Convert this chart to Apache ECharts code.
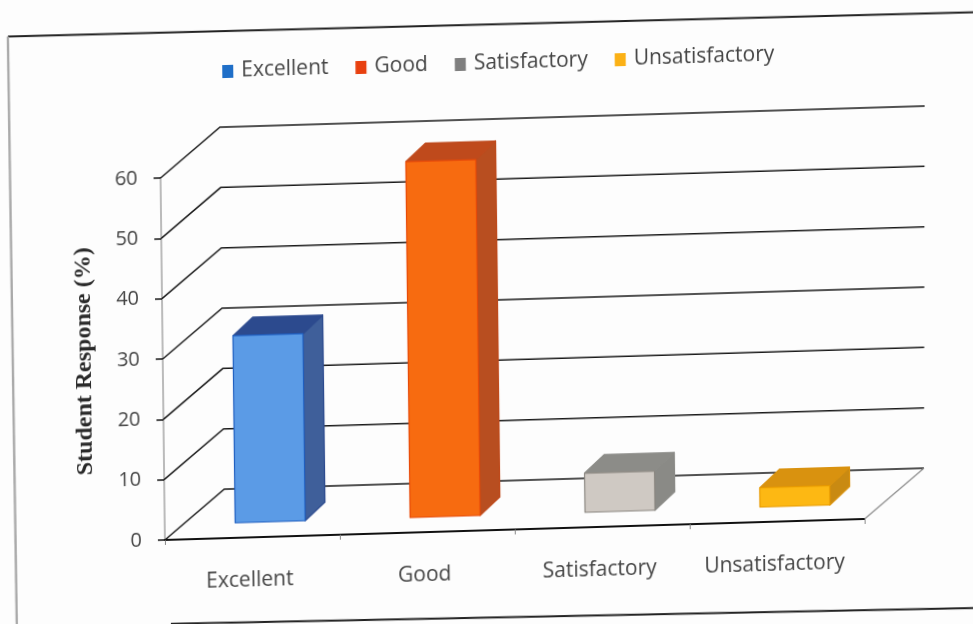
<!DOCTYPE html>
<html><head><meta charset="utf-8">
<script src="https://cdn.jsdelivr.net/npm/echarts@6/dist/echarts.min.js"></script>
<style>
html,body{margin:0;padding:0;width:973px;height:624px;overflow:hidden;background:#fdfdfd}
#c{position:absolute;left:-60px;top:-60px;width:1100px;height:780px;
 transform-origin:225px 600px;transform:matrix(1,-0.03,0.012,1,0,0);filter:blur(0.6px)}
</style></head><body><div id="c"></div>
<script>
const categories=['Excellent','Good','Satisfactory','Unsatisfactory'];
const responseValues=[31,59,6.5,3.2];
const yTicks=[0,10,20,30,40,50,60];
const axisTitle='Student Response (%)';
const palette=[
 {front:'#5b9be6',edge:'#1f5fc0',side:'#3f5f9a',top:'#2c4a8e',key:'#1f6fc8'},
 {front:'#f76b10',edge:'#e84a08',side:'#b84e20',top:'#bf4a1c',key:'#e8400f'},
 {front:'#cfc9c3',edge:'#8a8680',side:'#8a8a86',top:'#8c8c88',key:'#7f7f7f'},
 {front:'#fdb813',edge:'#e89a00',side:'#c98a12',top:'#d9920f',key:'#fbb116'}
];
const font='"Open Sans"';
const chart=echarts.init(document.getElementById('c'),null,{renderer:'canvas'});
const depth=[60,-49], barShift=[18,-15], barDepth=[20,-18], barFrac=0.4;

function gridItem(params,api){
  const v=api.value(0), p=api.coord([0,v]), cs=params.coordSys;
  const x0=cs.x, x1=cs.x+cs.width, y=p[1];
  const style={stroke:'#1a1a1a',lineWidth:1.5,fill:null};
  const children=[{type:'polyline',shape:{points:[[x0,y],[x0+depth[0],y+depth[1]],[x1+depth[0]+v/12,y+depth[1]]]},style}];
  if(v===0) children.push({type:'line',shape:{x1:x1,y1:y,x2:x1+depth[0],y2:y+depth[1]},style:{stroke:'#8a8a8a',lineWidth:1.2}});
  return {type:'group',children};
}
function barItem(pal){return function(params,api){
  const i=api.value(0), top=api.coord([i,api.value(1)]), base=api.coord([i,0]);
  const w=api.size([1,0])[0]*barFrac, l=top[0]-w/2+barShift[0], r=l+w;
  const yb=base[1]+barShift[1], yt=top[1]+barShift[1], dx=barDepth[0], dy=barDepth[1];
  const poly=(pts,fill,st)=>({type:'polygon',shape:{points:pts},style:{fill,stroke:st,lineWidth:1.2,lineJoin:'round'}});
  return {type:'group',children:[
    poly([[r,yb],[r+dx,yb+dy],[r+dx,yt+dy],[r,yt]],pal.side,pal.top),
    poly([[l,yt],[r,yt],[r+dx,yt+dy],[l+dx,yt+dy]],pal.top,pal.top),
    poly([[l,yb],[r,yb],[r,yt],[l,yt]],pal.front,pal.edge)
  ]};
};}

const series=[{type:'custom',name:'gridlines',silent:true,z:1,clip:false,
  coordinateSystem:'cartesian2d',encode:{y:0},data:yTicks.map(v=>[v]),renderItem:gridItem}];
categories.forEach((c,i)=>series.push({type:'custom',name:c,z:3,clip:false,
  coordinateSystem:'cartesian2d',itemStyle:{color:palette[i].key},
  encode:{x:0,y:1},data:[[i,responseValues[i]]],renderItem:barItem(palette[i])}));

chart.setOption({
  animation:false,backgroundColor:'transparent',
  graphic:[
    {type:'line',silent:true,shape:{x1:74,y1:92,x2:1100,y2:97},style:{stroke:'#222',lineWidth:1.8}},
    {type:'line',silent:true,shape:{x1:74,y1:92,x2:76,y2:720},style:{stroke:'#aaa',lineWidth:2.4}},
    {type:'line',silent:true,shape:{x1:230,y1:684,x2:1100,y2:693},style:{stroke:'#222',lineWidth:1.8}}
  ],
  legend:{left:283,top:118,data:categories,icon:'rect',itemWidth:11,itemHeight:13,itemGap:27,
    textStyle:{fontFamily:font,fontSize:21,color:'#444',padding:[0,0,0,3]}},
  grid:{left:225,top:238,width:700,height:362},
  xAxis:{type:'category',data:categories,
    axisLine:{show:true,lineStyle:{color:'#111',width:1.8}},
    axisTick:{show:true,length:5,lineStyle:{color:'#888'}},
    axisLabel:{margin:33,fontFamily:font,fontSize:21,color:'#444',interval:0,padding:[0,6,0,0]},splitLine:{show:false}},
  yAxis:{type:'value',min:0,max:60,interval:10,name:axisTitle,nameLocation:'middle',nameGap:66,
    nameTextStyle:{fontFamily:'"Liberation Serif"',fontWeight:'bold',fontSize:24,color:'#2a2a2a'},
    axisLine:{show:true,lineStyle:{color:'#aaa',width:1.6}},
    axisTick:{show:true,length:7,lineStyle:{color:'#222',width:1.6}},
    axisLabel:{margin:23,fontFamily:font,fontSize:20,color:'#444'},splitLine:{show:false}},
  series
});
</script></body></html>
